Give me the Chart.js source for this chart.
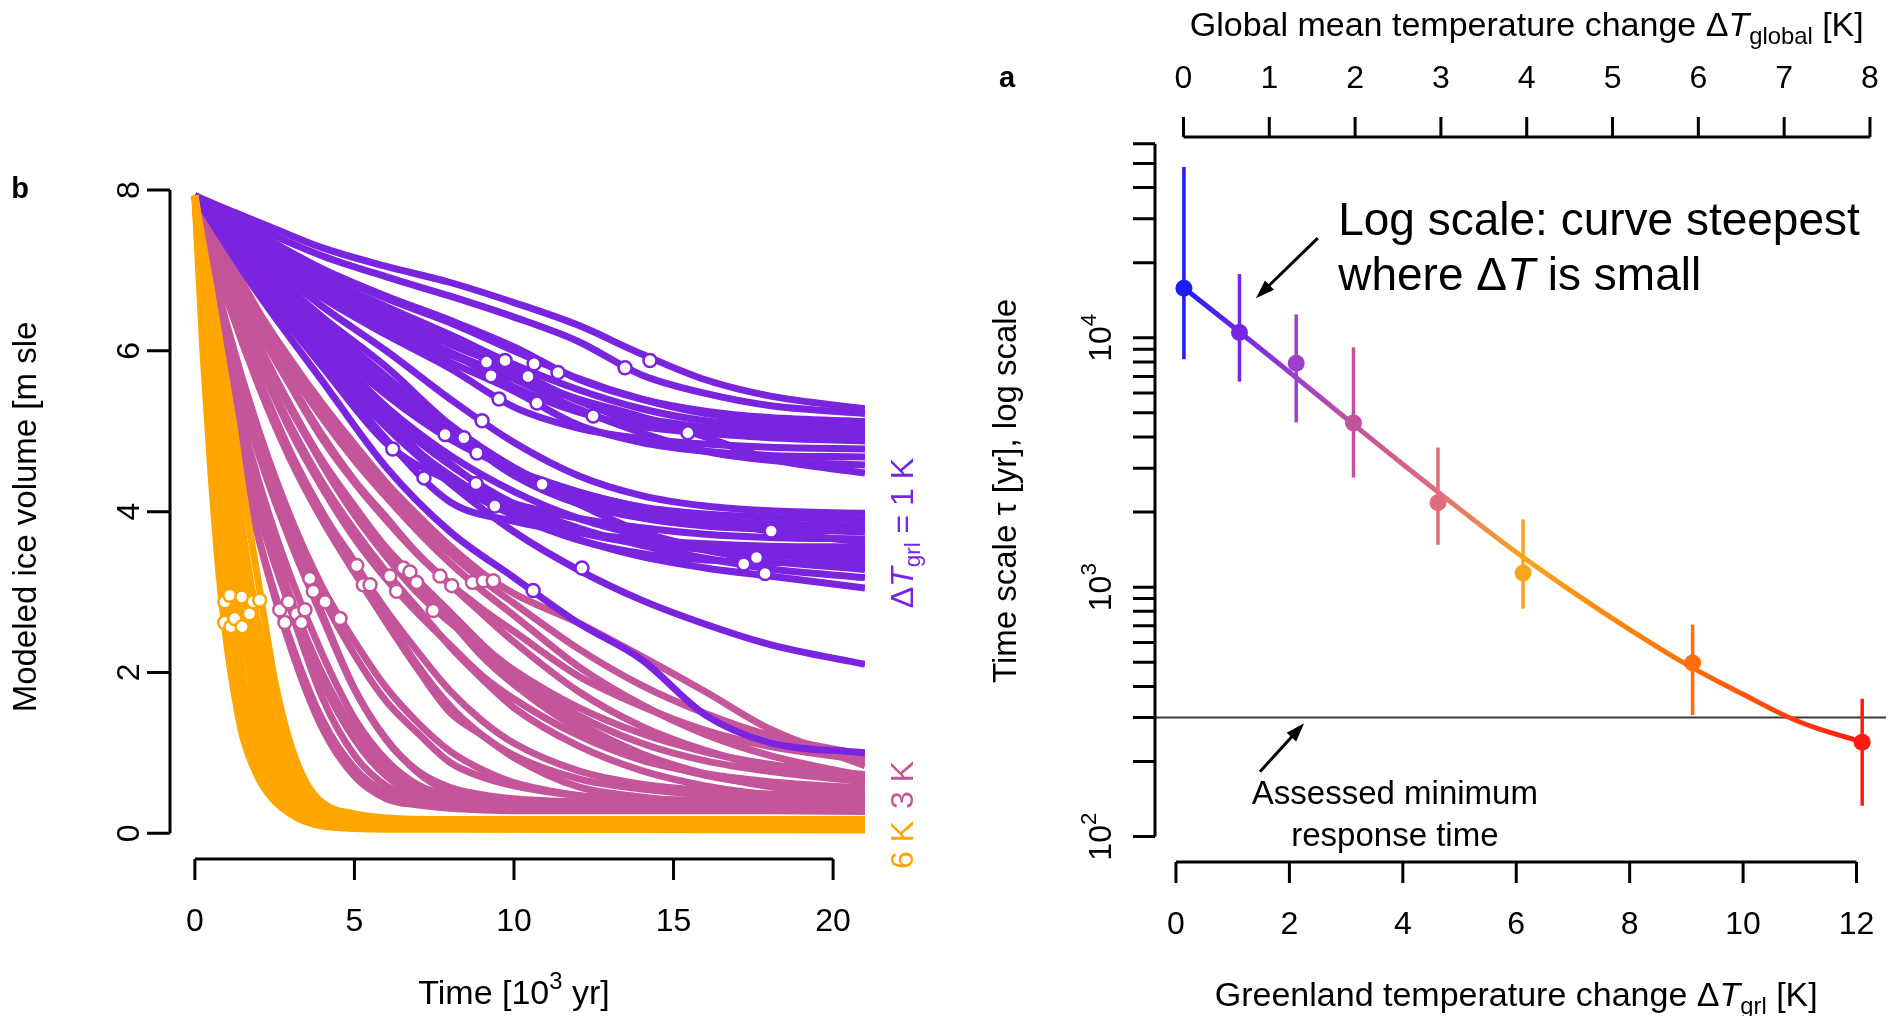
<!DOCTYPE html>
<html>
<head>
<meta charset="utf-8">
<script src="https://cdn.jsdelivr.net/npm/chart.js@4.4.1/dist/chart.umd.min.js"></script>
<style>
  html, body { margin: 0; padding: 0; background: #fff; overflow: hidden; }
  #wrap { position: relative; width: 1902px; height: 1016px; }
  #iceChart { position: absolute; left: 0; top: 0; }
  #tauChart { position: absolute; left: 960px; top: 0; }
</style>
</head>
<body>
<div id="wrap">
  <canvas id="iceChart" width="960" height="1016"></canvas>
  <canvas id="tauChart" width="942" height="1016"></canvas>
</div>
<script>
// ---------- panel b: modeled ice volume [m sle] vs time [kyr] ----------
const timeTicks = [0, 5, 10, 15, 20];
const volumeTicks = [0, 2, 4, 6, 8];
const timeRange = [-0.78, 21];
const volumeRange = [-0.32, 8.1];

// 6 K runs
const time6K = [0, 0.25, 0.5, 0.75, 1, 1.25, 1.5, 2, 2.5, 3, 3.5, 4, 5, 6, 8, 21];
const runs6K = [
  [7.93, 6.00, 4.50, 3.25, 2.35, 1.70, 1.20, 0.68, 0.40, 0.24, 0.14, 0.09, 0.06, 0.05, 0.05, 0.04],
  [7.93, 6.25, 4.85, 3.60, 2.65, 1.95, 1.40, 0.78, 0.45, 0.27, 0.16, 0.10, 0.07, 0.06, 0.06, 0.06],
  [7.93, 6.45, 5.15, 3.95, 2.95, 2.20, 1.60, 0.90, 0.51, 0.30, 0.18, 0.12, 0.08, 0.07, 0.07, 0.07],
  [7.93, 6.60, 5.40, 4.25, 3.25, 2.45, 1.80, 1.02, 0.58, 0.34, 0.21, 0.14, 0.09, 0.08, 0.08, 0.08],
  [7.93, 6.75, 5.60, 4.50, 3.50, 2.65, 1.97, 1.14, 0.65, 0.38, 0.24, 0.16, 0.10, 0.09, 0.09, 0.09],
  [7.93, 6.95, 5.95, 5.00, 4.10, 3.25, 2.50, 1.42, 0.80, 0.46, 0.29, 0.20, 0.13, 0.11, 0.11, 0.11],
  [7.93, 7.05, 6.15, 5.25, 4.40, 3.60, 2.85, 1.75, 1.00, 0.58, 0.35, 0.24, 0.16, 0.13, 0.13, 0.13],
  [7.93, 7.15, 6.35, 5.55, 4.75, 3.95, 3.25, 2.10, 1.25, 0.72, 0.42, 0.28, 0.18, 0.15, 0.15, 0.15],
  [7.93, 7.25, 6.55, 5.85, 5.15, 4.45, 3.75, 2.55, 1.55, 0.88, 0.50, 0.32, 0.21, 0.17, 0.16, 0.16],
  [7.93, 7.35, 6.80, 6.20, 5.60, 5.00, 4.30, 3.10, 1.90, 1.10, 0.62, 0.38, 0.24, 0.19, 0.17, 0.17]
];
const marks6KTime = [0.93, 0.94, 1.13, 1.09, 1.25, 1.48, 1.47, 1.71, 1.83, 2.03];
const marks6KVol = [2.62, 2.88, 2.57, 2.96, 2.67, 2.57, 2.94, 2.73, 2.88, 2.90];

// 3 K runs
const time3K = [0, 1, 2, 3, 4, 5, 6, 7, 8, 9, 10, 12, 14, 16, 18, 21];
const runs3K = [
  [7.93, 5.43, 3.66, 2.31, 1.30, 0.71, 0.43, 0.35, 0.31, 0.29, 0.28, 0.28, 0.28, 0.28, 0.28, 0.27],
  [7.93, 5.49, 3.68, 2.39, 1.41, 0.81, 0.50, 0.39, 0.33, 0.31, 0.30, 0.30, 0.30, 0.30, 0.30, 0.30],
  [7.93, 5.68, 3.99, 2.78, 1.68, 0.97, 0.59, 0.44, 0.37, 0.34, 0.33, 0.32, 0.32, 0.32, 0.32, 0.32],
  [7.93, 5.77, 4.13, 2.91, 1.88, 1.17, 0.71, 0.47, 0.39, 0.34, 0.32, 0.30, 0.30, 0.30, 0.30, 0.30],
  [7.93, 5.81, 4.16, 2.94, 1.98, 1.28, 0.80, 0.55, 0.45, 0.40, 0.37, 0.35, 0.35, 0.35, 0.35, 0.35],
  [7.93, 5.92, 4.38, 3.19, 2.22, 1.43, 0.91, 0.60, 0.46, 0.40, 0.36, 0.34, 0.33, 0.33, 0.33, 0.33],
  [7.93, 6.14, 4.74, 3.69, 2.72, 1.80, 1.16, 0.77, 0.57, 0.48, 0.43, 0.39, 0.38, 0.38, 0.38, 0.38],
  [7.93, 6.13, 4.71, 3.62, 2.68, 1.79, 1.17, 0.75, 0.51, 0.41, 0.36, 0.31, 0.30, 0.30, 0.30, 0.30],
  [7.93, 6.24, 4.85, 3.79, 2.93, 2.22, 1.64, 1.24, 0.88, 0.70, 0.59, 0.47, 0.43, 0.41, 0.40, 0.40],
  [7.93, 6.33, 5.01, 3.93, 3.06, 2.39, 1.81, 1.37, 1.02, 0.79, 0.63, 0.47, 0.40, 0.37, 0.36, 0.35],
  [7.93, 6.66, 5.61, 4.71, 3.97, 3.38, 2.69, 2.08, 1.58, 1.22, 0.97, 0.68, 0.55, 0.48, 0.45, 0.43],
  [7.93, 6.65, 5.56, 4.64, 3.89, 3.24, 2.62, 2.03, 1.50, 1.22, 0.94, 0.58, 0.45, 0.37, 0.33, 0.31],
  [7.93, 6.70, 5.66, 4.74, 3.99, 3.36, 2.77, 2.25, 1.77, 1.40, 1.12, 0.78, 0.61, 0.53, 0.49, 0.46],
  [7.93, 6.82, 5.90, 5.07, 4.36, 3.77, 3.25, 2.79, 2.32, 1.92, 1.56, 1.09, 0.78, 0.59, 0.48, 0.41],
  [7.93, 6.82, 5.86, 5.00, 4.29, 3.67, 3.16, 2.73, 2.34, 1.96, 1.67, 1.22, 0.91, 0.74, 0.64, 0.56],
  [7.93, 6.91, 6.03, 5.27, 4.60, 4.02, 3.53, 3.10, 2.65, 2.20, 1.85, 1.30, 0.95, 0.72, 0.60, 0.49],
  [7.93, 6.95, 6.08, 5.31, 4.63, 4.07, 3.55, 3.14, 2.75, 2.35, 2.00, 1.47, 1.12, 0.90, 0.77, 0.64],
  [7.93, 6.94, 6.08, 5.31, 4.61, 4.06, 3.53, 3.10, 2.70, 2.30, 1.92, 1.38, 0.99, 0.74, 0.58, 0.44],
  [7.93, 6.95, 6.05, 5.30, 4.58, 3.96, 3.44, 2.98, 2.62, 2.33, 2.03, 1.57, 1.24, 1.01, 0.86, 0.73],
  [7.93, 7.05, 6.25, 5.56, 4.90, 4.36, 3.89, 3.46, 3.09, 2.73, 2.38, 1.77, 1.33, 1.03, 0.82, 0.65],
  [7.93, 7.08, 6.28, 5.60, 4.95, 4.39, 3.93, 3.47, 3.10, 2.79, 2.51, 1.96, 1.58, 1.28, 1.08, 0.91],
  [7.93, 7.16, 6.41, 5.74, 5.16, 4.64, 4.18, 3.75, 3.36, 3.02, 2.71, 2.08, 1.60, 1.23, 0.97, 0.71],
  [7.93, 7.19, 6.47, 5.82, 5.27, 4.74, 4.27, 3.86, 3.48, 3.15, 2.86, 2.30, 1.84, 1.49, 1.22, 0.97],
  [7.93, 7.21, 6.49, 5.89, 5.34, 4.84, 4.36, 3.95, 3.57, 3.24, 2.98, 2.62, 2.20, 1.76, 1.30, 0.84]
];
const marks3KTime = [2.66, 2.82, 2.93, 3.19, 3.34, 3.45, 3.60, 3.71, 4.08, 4.55, 5.07, 5.28,
                     5.49, 6.11, 6.32, 6.53, 6.74, 6.95, 7.47, 7.68, 8.05, 8.70, 9.04, 9.35];
const marks3KVol = [2.78, 2.62, 2.88, 2.73, 2.62, 2.78, 3.17, 3.01, 2.88, 2.67, 3.33, 3.09,
                    3.09, 3.20, 3.01, 3.30, 3.25, 3.12, 2.77, 3.20, 3.08, 3.12, 3.14, 3.14];

// 1 K runs (last one drains down through the 3 K bundle)
const time1K = [0, 1, 2, 4, 6, 8, 10, 12, 14, 16, 18, 21];
const runs1K = [
  [7.93, 7.76, 7.60, 7.28, 7.05, 6.85, 6.60, 6.32, 5.96, 5.64, 5.44, 5.28],
  [7.93, 7.72, 7.52, 7.18, 6.92, 6.68, 6.42, 6.12, 5.70, 5.47, 5.32, 5.22],
  [7.93, 7.68, 7.45, 7.02, 6.68, 6.38, 6.05, 5.65, 5.40, 5.25, 5.17, 5.12],
  [7.93, 7.66, 7.42, 7.00, 6.65, 6.35, 6.00, 5.66, 5.40, 5.22, 5.13, 5.08],
  [7.93, 7.64, 7.38, 6.92, 6.55, 6.20, 5.83, 5.52, 5.28, 5.13, 5.06, 5.02],
  [7.93, 7.63, 7.35, 6.88, 6.50, 6.12, 5.72, 5.40, 5.17, 5.05, 4.99, 4.96],
  [7.93, 7.60, 7.30, 6.80, 6.38, 5.98, 5.55, 5.24, 5.06, 4.98, 4.94, 4.92],
  [7.93, 7.62, 7.34, 6.85, 6.45, 6.08, 5.76, 5.38, 5.10, 4.98, 4.92, 4.88],
  [7.93, 7.56, 7.22, 6.66, 6.20, 5.78, 5.30, 5.04, 4.91, 4.84, 4.80, 4.78],
  [7.93, 7.58, 7.26, 6.70, 6.25, 5.86, 5.50, 5.08, 4.86, 4.75, 4.70, 4.68],
  [7.93, 7.60, 7.30, 6.76, 6.34, 5.98, 5.65, 5.28, 4.98, 4.75, 4.64, 4.58],
  [7.93, 7.58, 7.26, 6.72, 6.30, 5.95, 5.65, 5.40, 5.18, 4.93, 4.66, 4.48],
  [7.93, 7.55, 7.18, 6.55, 6.00, 5.40, 4.86, 4.45, 4.20, 4.07, 4.01, 3.98],
  [7.93, 7.50, 7.08, 6.32, 5.62, 4.94, 4.52, 4.24, 4.06, 3.97, 3.93, 3.90],
  [7.93, 7.52, 7.12, 6.42, 5.80, 5.08, 4.55, 4.18, 3.98, 3.89, 3.85, 3.82],
  [7.93, 7.50, 7.08, 6.35, 5.68, 5.02, 4.45, 4.10, 3.92, 3.82, 3.78, 3.75],
  [7.93, 7.35, 6.80, 5.80, 4.85, 4.38, 4.10, 3.92, 3.80, 3.72, 3.68, 3.66],
  [7.93, 7.38, 6.85, 5.85, 4.90, 4.12, 3.88, 3.74, 3.65, 3.60, 3.57, 3.56],
  [7.93, 7.45, 6.98, 6.10, 5.30, 4.60, 4.05, 3.75, 3.60, 3.53, 3.50, 3.48],
  [7.93, 7.48, 7.05, 6.25, 5.55, 4.95, 4.52, 4.10, 3.75, 3.55, 3.46, 3.42],
  [7.93, 7.42, 6.92, 6.00, 5.15, 4.40, 3.95, 3.65, 3.48, 3.40, 3.37, 3.35],
  [7.93, 7.46, 7.00, 6.15, 5.45, 4.90, 4.52, 4.25, 4.05, 3.90, 3.76, 3.62],
  [7.93, 7.44, 6.96, 6.05, 5.30, 4.70, 4.25, 3.92, 3.70, 3.52, 3.39, 3.28],
  [7.93, 7.42, 6.92, 5.98, 5.20, 4.58, 4.10, 3.80, 3.58, 3.42, 3.29, 3.18],
  [7.93, 7.40, 6.88, 5.90, 5.08, 4.45, 3.98, 3.66, 3.44, 3.30, 3.20, 3.05],
  [7.93, 7.38, 6.85, 5.88, 5.05, 4.35, 3.75, 3.28, 2.90, 2.60, 2.35, 2.10],
  [7.93, 7.30, 6.70, 5.62, 4.55, 3.75, 3.18, 2.62, 2.16, 1.47, 1.13, 1.00]
];
const marks1KTime = [14.26, 13.48, 11.38, 10.63, 9.72, 9.14, 9.28, 10.44, 9.53, 10.72, 12.48, 15.45, 9.00, 7.84,
                     8.43, 8.84, 6.20, 7.18, 8.81, 10.88, 9.40, 18.06, 17.60, 17.20, 17.87, 12.13, 10.60];
const marks1KVol = [5.88, 5.79, 5.73, 5.84, 5.88, 5.86, 5.69, 5.68, 5.40, 5.35, 5.19, 4.98, 5.13, 4.96,
                    4.92, 4.73, 4.78, 4.42, 4.35, 4.34, 4.07, 3.76, 3.43, 3.35, 3.23, 3.30, 3.02];

const purple = '#7b24e0';
const pink = '#c4559a';
const orange = '#ffa500';

// ---------- panel a: time scale vs warming ----------
const dTgrl = [0.14, 1.12, 2.12, 3.13, 4.62, 6.12, 9.11, 12.1];
const tauMid = [15800, 10500, 7900, 4550, 2180, 1140, 497, 239];
const tauLow = [8200, 6670, 4580, 2750, 1480, 820, 307, 133];
const tauHigh = [48400, 18000, 12400, 9170, 3630, 1870, 708, 357];
const pointColors = ['#1c1cff', '#7326e3', '#9d3fcc', '#c2529c', '#e06d7c', '#fba41a', '#ff6e0c', '#ff1a10'];
const fitGrl = [0.14, 1, 2, 3, 4, 5, 6, 7, 8, 9, 10, 11, 12.1];
const fitTau = [15850, 11090, 7280, 4750, 3110, 2060, 1380, 955, 676, 490, 372, 288, 239];
const minResponse = 300;
const grlTicks = [0, 2, 4, 6, 8, 10, 12];
const globalTicks = [0, 1, 2, 3, 4, 5, 6, 7, 8];
const tauDecades = [2, 3, 4];
const tauTopTick = 60000;
const grlRange = [-0.37, 12.52];
const globalRange = [-0.332, 8.187];
const tauRange = [79.1, 63800];

const FONT = '"Liberation Sans", Arial, Helvetica, sans-serif';

// parts: [[text, style]] with style '', 'i', 'b', 'sub' or 'sup'
function drawText(ctx, parts, x, y, size, align, angle, color) {
  const fontOf = st => {
    const small = st === 'sub' || st === 'sup';
    return (st === 'i' ? 'italic ' : '') + (st === 'b' ? 'bold ' : '') + (small ? size * 0.7 : size) + 'px ' + FONT;
  };
  ctx.save();
  ctx.translate(x, y);
  if (angle) ctx.rotate(angle);
  ctx.fillStyle = color || '#000';
  ctx.textBaseline = 'middle';
  ctx.textAlign = 'left';
  let total = 0;
  const widths = parts.map(([s, st]) => {
    ctx.font = fontOf(st);
    const w = ctx.measureText(s).width;
    total += w;
    return w;
  });
  let cx = align === 'center' ? -total / 2 : align === 'right' ? -total : 0;
  parts.forEach(([s, st], i) => {
    ctx.font = fontOf(st);
    const dy = st === 'sub' ? size * 0.3 : st === 'sup' ? -size * 0.38 : 0;
    ctx.fillText(s, cx, dy);
    cx += widths[i];
  });
  ctx.restore();
}

function drawArrow(ctx, x0, y0, x1, y1) {
  const ang = Math.atan2(y1 - y0, x1 - x0);
  const head = 20, spread = 0.33;
  ctx.beginPath();
  ctx.moveTo(x0, y0);
  ctx.lineTo(x1 - Math.cos(ang) * head * 0.7, y1 - Math.sin(ang) * head * 0.7);
  ctx.lineWidth = 3;
  ctx.stroke();
  ctx.beginPath();
  ctx.moveTo(x1, y1);
  ctx.lineTo(x1 - head * Math.cos(ang - spread), y1 - head * Math.sin(ang - spread));
  ctx.lineTo(x1 - head * Math.cos(ang + spread), y1 - head * Math.sin(ang + spread));
  ctx.closePath();
  ctx.fill();
}

// ---------- panel b chart ----------
function runSets(times, runs, color) {
  return runs.map(vals => ({
    data: vals.map((v, i) => ({ x: times[i], y: v })),
    borderColor: color,
    borderWidth: 7,
    pointRadius: 0,
    cubicInterpolationMode: 'monotone',
    fill: false
  }));
}
function markerSet(times, vols, color) {
  return {
    data: times.map((t, i) => ({ x: t, y: vols[i] })),
    showLine: false,
    pointRadius: 6.5,
    pointBorderWidth: 2.5,
    pointBackgroundColor: '#fff',
    pointBorderColor: color
  };
}

const purpleSets = runSets(time1K, runs1K, purple);
const drainingRun = purpleSets.pop();

const panelBAxes = {
  id: 'panelBAxes',
  afterDraw(chart) {
    const { ctx, chartArea: area, scales: { x, y } } = chart;
    ctx.save();
    ctx.strokeStyle = '#000';
    ctx.lineWidth = 3;
    const x0 = x.getPixelForValue(timeTicks[0]);
    const x1 = x.getPixelForValue(timeTicks[timeTicks.length - 1]);
    const y0 = y.getPixelForValue(volumeTicks[0]);
    const y1 = y.getPixelForValue(volumeTicks[volumeTicks.length - 1]);
    ctx.beginPath();
    ctx.moveTo(x0, area.bottom); ctx.lineTo(x1, area.bottom);
    timeTicks.forEach(t => {
      const px = x.getPixelForValue(t);
      ctx.moveTo(px, area.bottom); ctx.lineTo(px, area.bottom + 21);
    });
    ctx.moveTo(area.left, y0); ctx.lineTo(area.left, y1);
    volumeTicks.forEach(v => {
      const py = y.getPixelForValue(v);
      ctx.moveTo(area.left, py); ctx.lineTo(area.left - 23, py);
    });
    ctx.stroke();

    timeTicks.forEach(t => drawText(ctx, [[String(t)]], x.getPixelForValue(t), area.bottom + 63, 32, 'center'));
    volumeTicks.forEach(v => drawText(ctx, [[String(v)]], area.left - 40, y.getPixelForValue(v), 32, 'center', -Math.PI / 2));
    drawText(ctx, [['Time [10'], ['3', 'sup'], [' yr]']], (x0 + x1) / 2, area.bottom + 136, 34, 'center');
    drawText(ctx, [['Modeled ice volume [m sle']], 27, 517, 33, 'center', -Math.PI / 2);
    drawText(ctx, [['b', 'b']], 20, y1, 29, 'center');

    // warming level of each bundle, written up the right edge
    const lx = area.right + 39;
    drawText(ctx, [['\u0394'], ['T', 'i'], ['grl', 'sub'], [' = 1 K']], lx, 533, 32, 'center', -Math.PI / 2, purple);
    drawText(ctx, [['3 K']], lx, 785, 32, 'center', -Math.PI / 2, pink);
    drawText(ctx, [['6 K']], lx, 845, 32, 'center', -Math.PI / 2, orange);
    ctx.restore();
  }
};

new Chart(document.getElementById('iceChart'), {
  type: 'line',
  data: {
    datasets: [
      markerSet(marks1KTime, marks1KVol, purple),
      markerSet(marks3KTime, marks3KVol, pink),
      markerSet(marks6KTime, marks6KVol, orange),
      ...runSets(time6K, runs6K, orange),
      drainingRun,
      ...runSets(time3K, runs3K, pink),
      ...purpleSets
    ]
  },
  options: {
    responsive: false,
    animation: false,
    events: [],
    layout: { padding: { left: 170, right: 95, top: 182, bottom: 157 } },
    plugins: { legend: { display: false }, tooltip: { enabled: false } },
    scales: {
      x: { type: 'linear', min: timeRange[0], max: timeRange[1], display: false },
      y: { type: 'linear', min: volumeRange[0], max: volumeRange[1], display: false }
    }
  },
  plugins: [panelBAxes]
});

// ---------- panel a chart ----------
function fitGradient(context) {
  const chart = context.chart;
  const xs = chart.scales.x;
  if (!chart.chartArea || !xs) return pointColors[0];
  const p0 = xs.getPixelForValue(dTgrl[0]);
  const p1 = xs.getPixelForValue(dTgrl[dTgrl.length - 1]);
  const g = chart.ctx.createLinearGradient(p0, 0, p1, 0);
  dTgrl.forEach((v, i) => g.addColorStop((xs.getPixelForValue(v) - p0) / (p1 - p0), pointColors[i]));
  return g;
}

const panelAAxes = {
  id: 'panelAAxes',
  afterDraw(chart) {
    const { ctx, chartArea: area, scales: { x, x2, y } } = chart;
    ctx.save();
    ctx.strokeStyle = '#000';
    ctx.fillStyle = '#000';
    ctx.lineWidth = 3;

    // log axis with 1..9 ticks per decade
    const tauTicks = [];
    tauDecades.forEach(d => {
      for (let m = 1; m <= 9; m++) {
        const v = m * Math.pow(10, d);
        if (v <= tauTopTick) tauTicks.push(v);
      }
    });
    ctx.beginPath();
    ctx.moveTo(area.left, y.getPixelForValue(tauTicks[0]));
    ctx.lineTo(area.left, y.getPixelForValue(tauTicks[tauTicks.length - 1]));
    tauTicks.forEach(v => {
      const py = y.getPixelForValue(v);
      ctx.moveTo(area.left, py); ctx.lineTo(area.left - 22, py);
    });

    // bottom axis, Greenland warming
    ctx.moveTo(x.getPixelForValue(grlTicks[0]), area.bottom);
    ctx.lineTo(x.getPixelForValue(grlTicks[grlTicks.length - 1]), area.bottom);
    grlTicks.forEach(t => {
      const px = x.getPixelForValue(t);
      ctx.moveTo(px, area.bottom); ctx.lineTo(px, area.bottom + 21);
    });

    // top axis, global mean warming
    ctx.moveTo(x2.getPixelForValue(globalTicks[0]), area.top);
    ctx.lineTo(x2.getPixelForValue(globalTicks[globalTicks.length - 1]), area.top);
    globalTicks.forEach(t => {
      const px = x2.getPixelForValue(t);
      ctx.moveTo(px, area.top); ctx.lineTo(px, area.top - 20);
    });
    ctx.stroke();

    tauDecades.forEach(d => drawText(ctx, [['10'], [String(d), 'sup']], area.left - 53,
      y.getPixelForValue(Math.pow(10, d)), 32, 'center', -Math.PI / 2));
    grlTicks.forEach(t => drawText(ctx, [[String(t)]], x.getPixelForValue(t), area.bottom + 63, 32, 'center'));
    globalTicks.forEach(t => drawText(ctx, [[String(t)]], x2.getPixelForValue(t), area.top - 58, 32, 'center'));

    const midBottom = (x.getPixelForValue(grlTicks[0]) + x.getPixelForValue(grlTicks[grlTicks.length - 1])) / 2;
    const midTop = (x2.getPixelForValue(globalTicks[0]) + x2.getPixelForValue(globalTicks[globalTicks.length - 1])) / 2;
    drawText(ctx, [['Greenland temperature change \u0394'], ['T', 'i'], ['grl', 'sub'], [' [K]']],
      midBottom, area.bottom + 135, 34, 'center');
    drawText(ctx, [['Global mean temperature change \u0394'], ['T', 'i'], ['global', 'sub'], [' [K]']],
      midTop, area.top - 110, 34, 'center');
    drawText(ctx, [['Time scale \u03c4 [yr], log scale']], 47, 491, 33, 'center', -Math.PI / 2);
    drawText(ctx, [['a', 'b']], 47, area.top - 58, 29, 'center');

    // annotations
    drawText(ctx, [['Log scale: curve steepest']], x.getPixelForValue(2.86), y.getPixelForValue(29100), 46, 'left');
    drawText(ctx, [['where \u0394'], ['T', 'i'], [' is small']], x.getPixelForValue(2.86), y.getPixelForValue(17500), 46, 'left');
    drawArrow(ctx, x.getPixelForValue(2.5), y.getPixelForValue(25100), x.getPixelForValue(1.41), y.getPixelForValue(14400));

    drawText(ctx, [['Assessed minimum']], x.getPixelForValue(3.86), y.getPixelForValue(147), 33, 'center');
    drawText(ctx, [['response time']], x.getPixelForValue(3.86), y.getPixelForValue(100), 33, 'center');
    drawArrow(ctx, x.getPixelForValue(1.48), y.getPixelForValue(182), x.getPixelForValue(2.26), y.getPixelForValue(285));
    ctx.restore();
  }
};

new Chart(document.getElementById('tauChart'), {
  type: 'line',
  data: {
    datasets: [
      {
        data: dTgrl.map((v, i) => ({ x: v, y: tauMid[i] })),
        showLine: false,
        pointRadius: 8.5,
        pointBorderWidth: 0,
        pointBackgroundColor: pointColors,
        pointBorderColor: pointColors
      },
      {
        data: fitGrl.map((v, i) => ({ x: v, y: fitTau[i] })),
        borderColor: fitGradient,
        borderWidth: 5,
        pointRadius: 0,
        tension: 0.4
      },
      ...dTgrl.map((v, i) => ({
        data: [{ x: v, y: tauLow[i] }, { x: v, y: tauHigh[i] }],
        borderColor: pointColors[i],
        borderWidth: 3.5,
        pointRadius: 0
      })),
      {
        data: grlRange.map(v => ({ x: v, y: minResponse })),
        borderColor: '#3a3a3a',
        borderWidth: 2,
        pointRadius: 0
      }
    ]
  },
  options: {
    responsive: false,
    animation: false,
    events: [],
    layout: { padding: { left: 195, right: 16, top: 137, bottom: 154 } },
    plugins: { legend: { display: false }, tooltip: { enabled: false } },
    scales: {
      x: { type: 'linear', min: grlRange[0], max: grlRange[1], display: false },
      x2: { type: 'linear', position: 'top', min: globalRange[0], max: globalRange[1], display: false },
      y: { type: 'logarithmic', min: tauRange[0], max: tauRange[1], display: false }
    }
  },
  plugins: [panelAAxes]
});
</script>
</body>
</html>
